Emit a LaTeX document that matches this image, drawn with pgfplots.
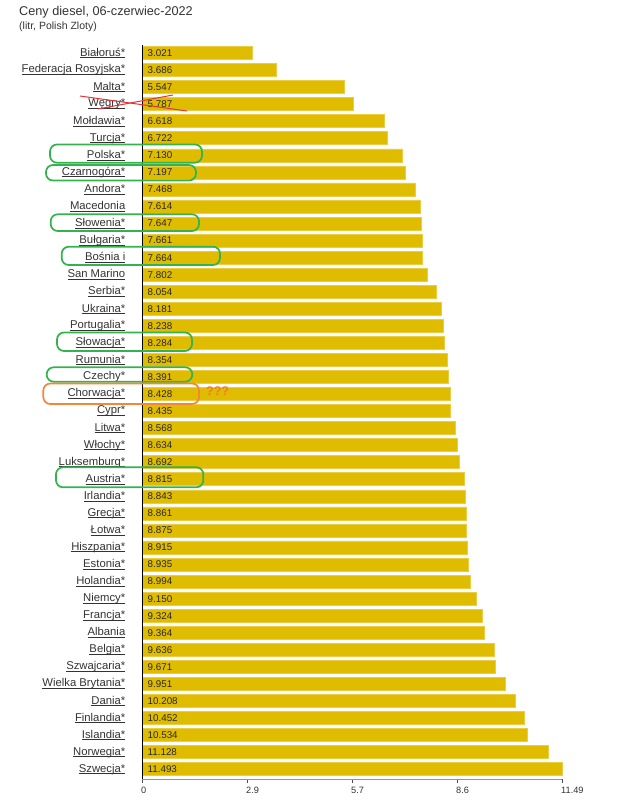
\documentclass[border=0pt]{standalone}
\usepackage{fontspec}
\setmainfont{Liberation Sans}
\usepackage{pgfplots}
\pgfplotsset{compat=1.18}
\usepackage{pgfplotstable}
\definecolor{barc}{HTML}{E0BC00}
\definecolor{baredge}{HTML}{EACD45}
\definecolor{lab}{HTML}{333333}
\definecolor{grn}{HTML}{34B24E}
\definecolor{org}{HTML}{F2873A}
\definecolor{orgtxt}{HTML}{F27A2A}
\definecolor{redx}{HTML}{E8323A}
\newcommand\ul[1]{\setbox0\hbox{#1}\rlap{\rule[-1.7pt]{\wd0}{0.65pt}}\box0}
\pgfplotstableread{
i v
0 3.021
1 3.686
2 5.547
3 5.787
4 6.618
5 6.722
6 7.130
7 7.197
8 7.468
9 7.614
10 7.647
11 7.661
12 7.664
13 7.802
14 8.054
15 8.181
16 8.238
17 8.284
18 8.354
19 8.391
20 8.428
21 8.435
22 8.568
23 8.634
24 8.692
25 8.815
26 8.843
27 8.861
28 8.875
29 8.915
30 8.935
31 8.994
32 9.150
33 9.324
34 9.364
35 9.636
36 9.671
37 9.951
38 10.208
39 10.452
40 10.534
41 11.128
42 11.493
}\data
\begin{document}
\begin{tikzpicture}
\useasboundingbox (0pt,0pt) rectangle (620pt,-803pt);
\node[anchor=base west, inner sep=0pt, font=\fontsize{12.7}{14}\selectfont, text=lab] at (19pt,-15.7pt) {Ceny diesel, 06-czerwiec-2022};
\node[anchor=base west, inner sep=0pt, font=\fontsize{10.5}{12}\selectfont, text=lab] at (19pt,-29.3pt) {(litr, Polish Zloty)};
\begin{axis}[
  at={(142pt,-45pt)}, anchor=north west,
  scale only axis, width=420pt, height=734pt,
  xmin=0, xmax=11.493, ymin=-0.47, ymax=42.58, y dir=reverse,
  axis on top,
  axis x line*=bottom, axis y line*=left,
  x axis line style={draw=gray!85, line width=0.8pt, -},
  y axis line style={draw=black, line width=0.8pt, -},
  xtick={0,2.87325,5.7465,8.61975,11.493},
  xticklabels={0,2.9,5.7,8.6,11.49},
  xtick align=outside, major tick length=4pt,
  xtick style={draw=gray!60!black, line width=0.6pt},
  xticklabel style={anchor=north west, inner sep=0pt, yshift=-3.5pt, xshift=-1pt, font=\fontsize{9.2}{10}\selectfont, text=lab},
  ytick={0,...,42},
  ytick style={draw=none},
  yticklabel style={anchor=east, inner sep=0pt, xshift=-16.5pt, font=\fontsize{11.3}{12}\selectfont, text=lab},
  yticklabels={\ul{Białoruś*},\ul{Federacja Rosyjska*},\ul{Malta*},\ul{Węgry*},\ul{Mołdawia*},\ul{Turcja*},\ul{Polska*},\ul{Czarnogóra*},\ul{Andora*},\ul{Macedonia},\ul{Słowenia*},\ul{Bułgaria*},\ul{Bośnia i},\ul{San Marino},\ul{Serbia*},\ul{Ukraina*},\ul{Portugalia*},\ul{Słowacja*},\ul{Rumunia*},\ul{Czechy*},\ul{Chorwacja*},\ul{Cypr*},\ul{Litwa*},\ul{Włochy*},\ul{Luksemburg*},\ul{Austria*},\ul{Irlandia*},\ul{Grecja*},\ul{Łotwa*},\ul{Hiszpania*},\ul{Estonia*},\ul{Holandia*},\ul{Niemcy*},\ul{Francja*},\ul{Albania},\ul{Belgia*},\ul{Szwajcaria*},\ul{Wielka Brytania*},\ul{Dania*},\ul{Finlandia*},\ul{Islandia*},\ul{Norwegia*},\ul{Szwecja*}},
  clip=false,
]
\addplot[xbar, bar width=13pt, fill=barc, draw=baredge, line width=0.6pt] table[x=v, y=i] {\data};
\addplot[draw=none, mark=none, point meta=\thisrow{v},
  nodes near coords={\pgfmathprintnumber[fixed,fixed zerofill,precision=3]{\pgfplotspointmeta}},
  nodes near coords style={anchor=west, inner sep=0pt, font=\fontsize{9.8}{11}\selectfont, text=black!85, /pgf/number format/assume math mode=true}]
  table[x expr=0.15, y=i] {\data};
\end{axis}
\begin{scope}[x=1pt, y=-1pt]
\begin{scope}[draw=grn, line width=1.7pt, rounded corners=7pt]
\draw (50,144.5) rectangle (202,162.7);
\draw (46,165) rectangle (196,180.5);
\draw (50.7,214.3) rectangle (199,231);
\draw (61.7,246.7) rectangle (220,265);
\draw (57,332.5) rectangle (192,351);
\draw (46.7,367.3) rectangle (192.3,381.7);
\draw (56,467.3) rectangle (203.3,487.3);
\end{scope}
\draw[org, line width=1.7pt, rounded corners=7pt] (43.3,383.5) rectangle (199,404);
\node[anchor=west, inner sep=0pt, text=orgtxt, font=\bfseries\fontsize{12.5}{13}\selectfont] at (206,391) {???};
\draw[redx, line width=1pt] (80,96) -- (187,111);
\draw[redx, line width=1pt] (98,109) -- (173,95);
\end{scope}
\end{tikzpicture}
\end{document}
